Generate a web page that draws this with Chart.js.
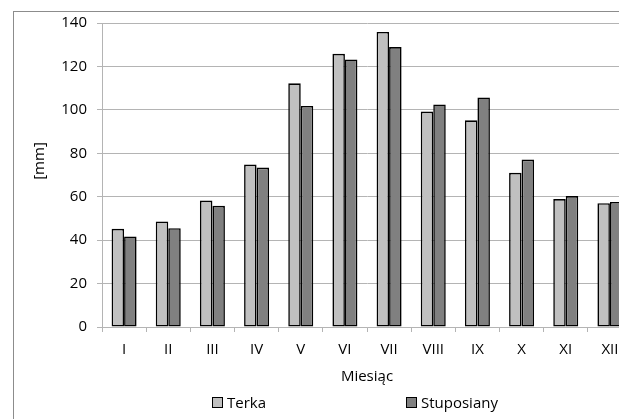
<!DOCTYPE html>
<html>
<head>
<meta charset="utf-8">
<script src="https://cdn.jsdelivr.net/npm/chart.js@4"></script>
<style>
    body { margin: 0; overflow: hidden; background: #fff; font-family: "Open Sans", sans-serif; }
    #wrap { position: relative; width: 640px; height: 419px; }
    #frame { position: absolute; left: 13px; top: 11px; width: 700px; height: 500px;
        border-left: 1px solid #8c8c8c; border-top: 1px solid #8c8c8c; }
    #chart { position: absolute; left: 0; top: 0; }
    #legend { position: absolute; left: 212px; top: 392px; display: flex; }
    #legend .item { width: 194px; display: flex; align-items: center; font-size: 15px; color: #000; }
    #legend .box { width: 9px; height: 9px; border: 1px solid #000; margin-right: 4px; }
</style>
</head>
<body>
<div id="wrap">
    <div id="frame"></div>
    <canvas id="chart" width="640" height="419"></canvas>
    <div id="legend"></div>
</div>
<script>
const months = ['I', 'II', 'III', 'IV', 'V', 'VI', 'VII', 'VIII', 'IX', 'X', 'XI', 'XII']
const terka = [45.2, 48.6, 58.2, 74.8, 112.2, 125.8, 135.9, 99.2, 95.2, 71.0, 58.9, 57.0]
const stuposiany = [41.7, 45.5, 55.8, 73.4, 101.8, 123.2, 128.9, 102.5, 105.7, 77.1, 60.3, 57.6]
const seriesNames = ['Terka', 'Stuposiany']
const yTicks = [0, 20, 40, 60, 80, 100, 120, 140]
const yTitle = '[mm]'

const gridColor = '#b4b4b4'
const font = { family: 'Open Sans', size: 15 }

// legenda w html, bo excel daje szerokie odstępy między wpisami
const htmlLegend = {
    id: 'htmlLegend',
    afterUpdate(chart) {
        const el = document.getElementById('legend')
        el.innerHTML = ''
        chart.options.plugins.legend.labels.generateLabels(chart).forEach(function (item) {
            const div = document.createElement('div')
            div.className = 'item'
            const box = document.createElement('span')
            box.className = 'box'
            box.style.background = item.fillStyle
            const txt = document.createElement('span')
            txt.textContent = item.text
            div.appendChild(box)
            div.appendChild(txt)
            el.appendChild(div)
        })
    }
}

// tytuł osi y trochę wyżej niż środek osi, jak w excelu
const yTitlePlugin = {
    id: 'yTitlePlugin',
    afterDraw(chart) {
        const c = chart.ctx
        const area = chart.chartArea
        c.save()
        c.translate(40, (area.top + area.bottom) / 2 - 14)
        c.rotate(-Math.PI / 2)
        c.font = '15px "Open Sans"'
        c.fillStyle = '#000'
        c.textAlign = 'center'
        c.textBaseline = 'middle'
        c.fillText(yTitle, 0, 0)
        c.restore()
    }
}

let ctx = document.getElementById('chart').getContext('2d')
let chart = new Chart(ctx, {
    type: 'bar',
    data: {
        labels: months,
        datasets: [{
            label: seriesNames[0],
            data: terka,
            backgroundColor: '#c0c0c0',
            borderColor: '#000',
            borderWidth: 1.6,
            borderSkipped: false
        }, {
            label: seriesNames[1],
            data: stuposiany,
            backgroundColor: '#808080',
            borderColor: '#000',
            borderWidth: 1.6,
            borderSkipped: false
        }]
    },
    options: {
        responsive: false,
        animation: false,
        datasets: { bar: { barPercentage: 1, categoryPercentage: 0.566 } },
        layout: { padding: { left: 14, top: 23, right: 8, bottom: 0 } },
        plugins: {
            legend: { display: false },
            tooltip: { enabled: false }
        },
        scales: {
            x: {
                grid: { drawOnChartArea: false, drawTicks: true, tickLength: 5, color: gridColor, offset: true },
                border: { color: gridColor },
                ticks: { color: '#000', font: font, padding: 9, maxRotation: 0, autoSkip: false },
                title: { display: true, text: 'Miesiąc', color: '#000', font: font, padding: { top: 0, bottom: 33 } },
                afterFit: function (scale) { scale.height = 92 }
            },
            y: {
                min: 0,
                max: 140,
                afterBuildTicks: function (scale) { scale.ticks = yTicks.map(v => ({ value: v })) },
                grid: { color: gridColor, tickLength: 5 },
                border: { color: gridColor },
                ticks: { color: '#000', font: font, padding: 10 },
                afterFit: function (scale) { scale.width = 88 }
            }
        }
    },
    plugins: [htmlLegend, yTitlePlugin]
})
</script>
</body>
</html>
